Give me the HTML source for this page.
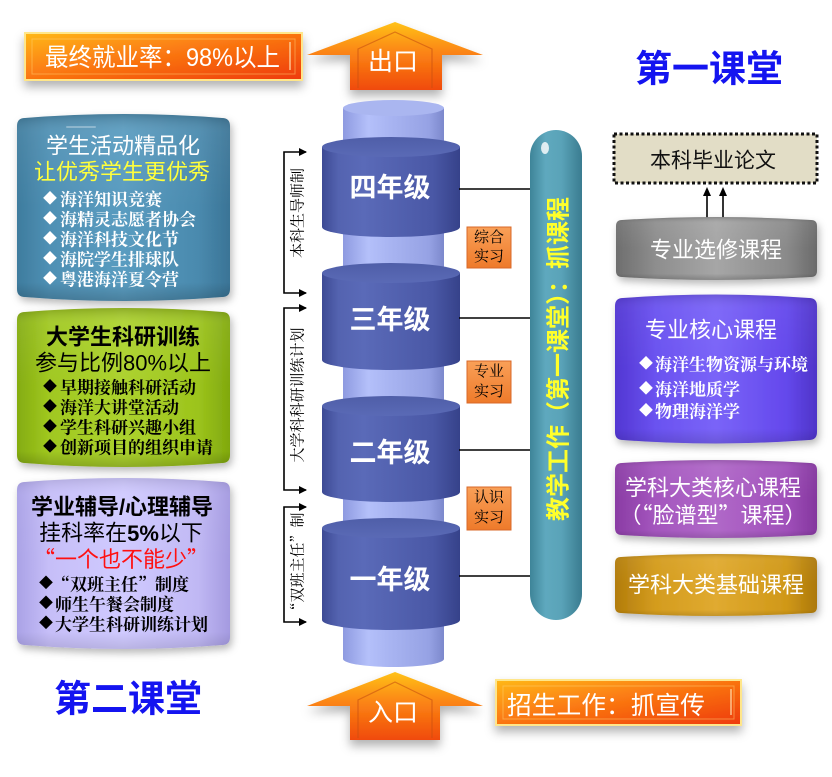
<!DOCTYPE html>
<html><head><meta charset="utf-8">
<style>
html,body{margin:0;padding:0;background:#fff;}
svg{display:block;}
.s{font-family:"Liberation Sans","Noto Sans CJK SC",sans-serif;}
.r{font-family:"Liberation Serif","Noto Serif CJK SC",serif;}
.sc{font-family:"Noto Sans CJK SC","Liberation Sans",sans-serif;}
.rc{font-family:"Noto Serif CJK SC","Liberation Serif",serif;}
</style></head>
<body>
<svg width="832" height="777" viewBox="0 0 832 777" xmlns="http://www.w3.org/2000/svg">
<defs>
  <filter id="sh" x="-20%" y="-20%" width="140%" height="150%">
    <feDropShadow dx="2" dy="4" stdDeviation="4" flood-color="#000" flood-opacity="0.28"/>
  </filter>
  <filter id="sh2" x="-20%" y="-30%" width="140%" height="170%">
    <feDropShadow dx="0" dy="6" stdDeviation="5" flood-color="#000" flood-opacity="0.3"/>
  </filter>
  <linearGradient id="orH" x1="0" y1="0" x2="1" y2="1">
    <stop offset="0" stop-color="#ffb818"/>
    <stop offset="0.45" stop-color="#fb7a12"/>
    <stop offset="1" stop-color="#ee3a08"/>
  </linearGradient>
  <linearGradient id="arr" x1="0" y1="0" x2="0" y2="1">
    <stop offset="0" stop-color="#ffc21a"/>
    <stop offset="0.45" stop-color="#fb8414"/>
    <stop offset="1" stop-color="#f04a0a"/>
  </linearGradient>
  <linearGradient id="bigC" x1="0" y1="0" x2="1" y2="0">
    <stop offset="0" stop-color="#3d4a94"/>
    <stop offset="0.12" stop-color="#5463b0"/>
    <stop offset="0.3" stop-color="#5a6ab8"/>
    <stop offset="0.8" stop-color="#4a58a6"/>
    <stop offset="1" stop-color="#36428a"/>
  </linearGradient>
  <linearGradient id="bigT" x1="0" y1="0" x2="0" y2="1">
    <stop offset="0" stop-color="#4f5ea8"/>
    <stop offset="1" stop-color="#5a6ab6"/>
  </linearGradient>
  <linearGradient id="litC" x1="0" y1="0" x2="1" y2="0">
    <stop offset="0" stop-color="#8e9ae0"/>
    <stop offset="0.25" stop-color="#b4c0fa"/>
    <stop offset="0.45" stop-color="#a9b5f2"/>
    <stop offset="0.85" stop-color="#96a2e4"/>
    <stop offset="1" stop-color="#7c88cc"/>
  </linearGradient>
  <linearGradient id="pill" x1="0" y1="0" x2="1" y2="0">
    <stop offset="0" stop-color="#3e8498"/>
    <stop offset="0.3" stop-color="#5fa9be"/>
    <stop offset="0.6" stop-color="#5aa3b8"/>
    <stop offset="1" stop-color="#3a7c90"/>
  </linearGradient>
  <linearGradient id="blue" x1="0" y1="0" x2="1" y2="0">
    <stop offset="0" stop-color="#3e7c9e"/>
    <stop offset="0.15" stop-color="#4f90b4"/>
    <stop offset="0.5" stop-color="#5a9cc0"/>
    <stop offset="0.85" stop-color="#4a8aae"/>
    <stop offset="1" stop-color="#3a7496"/>
  </linearGradient>
  <linearGradient id="green" x1="0" y1="0" x2="1" y2="0">
    <stop offset="0" stop-color="#84ac10"/>
    <stop offset="0.15" stop-color="#a0c820"/>
    <stop offset="0.5" stop-color="#acd22e"/>
    <stop offset="0.85" stop-color="#9cc41c"/>
    <stop offset="1" stop-color="#80a80e"/>
  </linearGradient>
  <linearGradient id="lav" x1="0" y1="0" x2="1" y2="0">
    <stop offset="0" stop-color="#aaa2e6"/>
    <stop offset="0.15" stop-color="#c6bef8"/>
    <stop offset="0.5" stop-color="#d0caff"/>
    <stop offset="0.85" stop-color="#c0b8f4"/>
    <stop offset="1" stop-color="#a49ae0"/>
  </linearGradient>
  <linearGradient id="gray" x1="0" y1="0" x2="1" y2="0">
    <stop offset="0" stop-color="#6e6e6e"/>
    <stop offset="0.2" stop-color="#8e8e8e"/>
    <stop offset="0.5" stop-color="#a6a6a6"/>
    <stop offset="0.85" stop-color="#8a8a8a"/>
    <stop offset="1" stop-color="#6a6a6a"/>
  </linearGradient>
  <linearGradient id="vio" x1="0" y1="0" x2="1" y2="0">
    <stop offset="0" stop-color="#5236d2"/>
    <stop offset="0.2" stop-color="#6a52f0"/>
    <stop offset="0.5" stop-color="#7a64f8"/>
    <stop offset="0.85" stop-color="#6448ec"/>
    <stop offset="1" stop-color="#4e34c8"/>
  </linearGradient>
  <linearGradient id="mag" x1="0" y1="0" x2="1" y2="0">
    <stop offset="0" stop-color="#8a3ca4"/>
    <stop offset="0.2" stop-color="#a456be"/>
    <stop offset="0.5" stop-color="#b068c8"/>
    <stop offset="0.85" stop-color="#a050ba"/>
    <stop offset="1" stop-color="#84369e"/>
  </linearGradient>
  <linearGradient id="gold" x1="0" y1="0" x2="1" y2="0">
    <stop offset="0" stop-color="#b27c0c"/>
    <stop offset="0.2" stop-color="#d49c1e"/>
    <stop offset="0.5" stop-color="#e0aa30"/>
    <stop offset="0.85" stop-color="#d09818"/>
    <stop offset="1" stop-color="#ac780a"/>
  </linearGradient>
  <linearGradient id="vshade" x1="0" y1="0" x2="0" y2="1">
    <stop offset="0" stop-color="#000" stop-opacity="0.18"/>
    <stop offset="0.1" stop-color="#fff" stop-opacity="0.06"/>
    <stop offset="0.5" stop-color="#fff" stop-opacity="0"/>
    <stop offset="0.9" stop-color="#000" stop-opacity="0"/>
    <stop offset="1" stop-color="#000" stop-opacity="0.18"/>
  </linearGradient>
  <linearGradient id="small" x1="0" y1="0" x2="0" y2="1">
    <stop offset="0" stop-color="#f9a058"/>
    <stop offset="1" stop-color="#ee7a2a"/>
  </linearGradient>
</defs>

<!-- Top-left orange banner -->
<g filter="url(#sh2)">
  <rect x="25" y="33" width="277" height="47" fill="url(#orH)" stroke="#ffe68a" stroke-width="2"/>
</g>
<rect x="32" y="39" width="263" height="35" fill="none" stroke="#ffd070" stroke-opacity="0.5" stroke-width="1"/>
<line x1="290" y1="42" x2="290" y2="70" stroke="#ffe0b0" stroke-width="1.5" stroke-opacity="0.8"/>
<text class="s" x="45" y="58" dominant-baseline="central" font-size="25" fill="#fff" textLength="235" lengthAdjust="spacingAndGlyphs">最终就业率：98%以上</text>

<!-- Top arrow 出口 -->
<g filter="url(#sh2)">
  <polygon points="395,22 483,55 442,55 442,90 350,90 350,55 307,55" fill="url(#arr)"/>
</g>
<polyline points="358,88 358,49 395,32 432,49 432,88" fill="none" stroke="#c85010" stroke-opacity="0.6" stroke-width="1.2"/>
<text class="s" x="393" y="62" dominant-baseline="central" text-anchor="middle" font-size="25" fill="#fff">出口</text>

<!-- 第一课堂 / 第二课堂 -->
<text class="s" x="709" y="69" dominant-baseline="central" text-anchor="middle" font-size="37" font-weight="bold" fill="#1414f0">第一课堂</text>
<text class="s" x="128" y="699" dominant-baseline="central" text-anchor="middle" font-size="37" font-weight="bold" fill="#1414f0">第二课堂</text>

<!-- Central light cylinder -->
<rect x="343" y="108" width="101" height="551" fill="url(#litC)"/>
<ellipse cx="393.5" cy="659" rx="50.5" ry="8" fill="url(#litC)"/>
<ellipse cx="393.5" cy="108" rx="50.5" ry="8" fill="#aab6f0"/>

<!-- Big cylinders -->
<g>
  <path d="M322,147 L322,227 A69,10 0 0 0 460,227 L460,147 Z" fill="url(#bigC)"/>
  <ellipse cx="391" cy="147" rx="69" ry="10" fill="url(#bigT)"/>
  <path d="M322,273 L322,360 A69,10 0 0 0 460,360 L460,273 Z" fill="url(#bigC)"/>
  <ellipse cx="391" cy="273" rx="69" ry="10" fill="url(#bigT)"/>
  <path d="M322,406 L322,492 A69,10 0 0 0 460,492 L460,406 Z" fill="url(#bigC)"/>
  <ellipse cx="391" cy="406" rx="69" ry="10" fill="url(#bigT)"/>
  <path d="M322,528 L322,620 A69,10 0 0 0 460,620 L460,528 Z" fill="url(#bigC)"/>
  <ellipse cx="391" cy="528" rx="69" ry="10" fill="url(#bigT)"/>
</g>
<text class="s" x="390" y="188" dominant-baseline="central" text-anchor="middle" font-size="27" font-weight="bold" fill="#fff">四年级</text>
<text class="s" x="390" y="320" dominant-baseline="central" text-anchor="middle" font-size="27" font-weight="bold" fill="#fff">三年级</text>
<text class="s" x="390" y="453" dominant-baseline="central" text-anchor="middle" font-size="27" font-weight="bold" fill="#fff">二年级</text>
<text class="s" x="390" y="580" dominant-baseline="central" text-anchor="middle" font-size="27" font-weight="bold" fill="#fff">一年级</text>

<!-- connectors to pill -->
<g stroke="#000" stroke-width="1.5">
  <line x1="459" y1="189" x2="531" y2="189"/>
  <line x1="459" y1="318" x2="531" y2="318"/>
  <line x1="459" y1="450" x2="531" y2="450"/>
  <line x1="459" y1="576" x2="531" y2="576"/>
</g>

<!-- small orange boxes -->
<rect x="467" y="227" width="44" height="41" fill="url(#small)" stroke="#d8682a" stroke-width="1"/>
<text class="r" x="489" y="238" dominant-baseline="central" text-anchor="middle" font-size="15" fill="#000">综合</text>
<text class="r" x="489" y="257" dominant-baseline="central" text-anchor="middle" font-size="15" fill="#000">实习</text>
<rect x="467" y="361" width="44" height="42" fill="url(#small)" stroke="#d8682a" stroke-width="1"/>
<text class="r" x="489" y="372" dominant-baseline="central" text-anchor="middle" font-size="15" fill="#000">专业</text>
<text class="r" x="489" y="392" dominant-baseline="central" text-anchor="middle" font-size="15" fill="#000">实习</text>
<rect x="467" y="487" width="44" height="43" fill="url(#small)" stroke="#d8682a" stroke-width="1"/>
<text class="r" x="489" y="498" dominant-baseline="central" text-anchor="middle" font-size="15" fill="#000">认识</text>
<text class="r" x="489" y="518" dominant-baseline="central" text-anchor="middle" font-size="15" fill="#000">实习</text>

<!-- Pill -->
<rect x="530" y="130" width="52" height="490" rx="26" ry="26" fill="url(#pill)"/>
<ellipse cx="545" cy="148" rx="4" ry="6" fill="#fff" fill-opacity="0.8"/>
<text class="sc" transform="rotate(-90 556 359)" x="556" y="359" dominant-baseline="central" text-anchor="middle" font-size="24" font-weight="bold" fill="#ffff2a">教学工作（第一课堂）：抓课程</text>

<!-- Brackets -->
<g stroke="#000" stroke-width="1.6" fill="none">
  <polyline points="306,152 284,152 284,293 306,293"/>
  <polyline points="306,308 284,308 284,490 306,490"/>
  <polyline points="306,507 284,507 284,622 306,622"/>
</g>
<g fill="#000">
  <path d="M299,148 L307,152 L299,156 Z"/>
  <path d="M299,289 L307,293 L299,297 Z"/>
  <path d="M299,304 L307,308 L299,312 Z"/>
  <path d="M299,486 L307,490 L299,494 Z"/>
  <path d="M299,503 L307,507 L299,511 Z"/>
  <path d="M299,618 L307,622 L299,626 Z"/>
</g>
<text class="rc" transform="rotate(-90 297 213)" x="297" y="213" dominant-baseline="central" text-anchor="middle" font-size="15" fill="#000">本科生导师制</text>
<text class="rc" transform="rotate(-90 297 395)" x="297" y="395" dominant-baseline="central" text-anchor="middle" font-size="15" fill="#000">大学科科研训练计划</text>
<text class="rc" transform="rotate(-90 297 565)" x="297" y="565" dominant-baseline="central" text-anchor="middle" font-size="15" fill="#000">“双班主任”制</text>

<!-- Left boxes -->
<g filter="url(#sh)">
  <path d="M17,126 Q17,118 25,118 Q123.5,110 222,118 Q230,118 230,126 L230,289 Q230,297 222,297 Q123.5,305 25,297 Q17,297 17,289 Z" fill="url(#blue)"/>
</g>
<path d="M17,126 Q17,118 25,118 Q123.5,110 222,118 Q230,118 230,126 L230,289 Q230,297 222,297 Q123.5,305 25,297 Q17,297 17,289 Z" fill="url(#vshade)"/>
<rect x="66" y="126" width="30" height="2" rx="1" fill="#fff" fill-opacity="0.3"/>
<text class="s" x="123" y="146" dominant-baseline="central" text-anchor="middle" font-size="22" fill="#fff">学生活动精品化</text>
<text class="s" x="122" y="172" dominant-baseline="central" text-anchor="middle" font-size="22" fill="#ffff3c">让优秀学生更优秀</text>
<g class="r" font-size="17" font-weight="bold" fill="#fff">
  <text x="43" y="200" dominant-baseline="central" font-size="14">◆</text><text x="60" y="200" dominant-baseline="central">海洋知识竞赛</text>
  <text x="43" y="220" dominant-baseline="central" font-size="14">◆</text><text x="60" y="220" dominant-baseline="central">海精灵志愿者协会</text>
  <text x="43" y="240" dominant-baseline="central" font-size="14">◆</text><text x="60" y="240" dominant-baseline="central">海洋科技文化节</text>
  <text x="43" y="260" dominant-baseline="central" font-size="14">◆</text><text x="60" y="260" dominant-baseline="central">海院学生排球队</text>
  <text x="43" y="280" dominant-baseline="central" font-size="14">◆</text><text x="60" y="280" dominant-baseline="central">粤港海洋夏令营</text>
</g>

<g filter="url(#sh)">
  <path d="M17,320 Q17,312 25,312 Q123.5,304 222,312 Q230,312 230,320 L230,455 Q230,463 222,463 Q123.5,471 25,463 Q17,463 17,455 Z" fill="url(#green)"/>
</g>
<path d="M17,320 Q17,312 25,312 Q123.5,304 222,312 Q230,312 230,320 L230,455 Q230,463 222,463 Q123.5,471 25,463 Q17,463 17,455 Z" fill="url(#vshade)"/>
<text class="s" x="123" y="337" dominant-baseline="central" text-anchor="middle" font-size="22" font-weight="bold" fill="#000">大学生科研训练</text>
<text class="s" x="123" y="363" dominant-baseline="central" text-anchor="middle" font-size="22" fill="#000">参与比例80%以上</text>
<g class="r" font-size="17" font-weight="bold" fill="#000">
  <text x="43" y="388" dominant-baseline="central" font-size="14">◆</text><text x="60" y="388" dominant-baseline="central">早期接触科研活动</text>
  <text x="43" y="408" dominant-baseline="central" font-size="14">◆</text><text x="60" y="408" dominant-baseline="central">海洋大讲堂活动</text>
  <text x="43" y="428" dominant-baseline="central" font-size="14">◆</text><text x="60" y="428" dominant-baseline="central">学生科研兴趣小组</text>
  <text x="43" y="448" dominant-baseline="central" font-size="14">◆</text><text x="60" y="448" dominant-baseline="central">创新项目的组织申请</text>
</g>

<g filter="url(#sh)">
  <path d="M17,490 Q17,482 25,482 Q123.5,474 222,482 Q230,482 230,490 L230,637 Q230,645 222,645 Q123.5,653 25,645 Q17,645 17,637 Z" fill="url(#lav)"/>
</g>
<path d="M17,490 Q17,482 25,482 Q123.5,474 222,482 Q230,482 230,490 L230,637 Q230,645 222,645 Q123.5,653 25,645 Q17,645 17,637 Z" fill="url(#vshade)" opacity="0.6"/>
<text class="s" x="122" y="507" dominant-baseline="central" text-anchor="middle" font-size="22" font-weight="bold" fill="#000">学业辅导/心理辅导</text>
<text class="s" x="121" y="533" dominant-baseline="central" text-anchor="middle" font-size="22" fill="#000">挂科率在<tspan font-weight="bold">5%</tspan>以下</text>
<text class="sc" x="121" y="558" dominant-baseline="central" text-anchor="middle" font-size="22" fill="#ff1010">“一个也不能少”</text>
<g class="rc" font-size="17" font-weight="bold" fill="#000">
  <text x="39" y="583" dominant-baseline="central" font-size="14">◆</text><text x="53" y="583" dominant-baseline="central">“双班主任”制度</text>
  <text x="39" y="603" dominant-baseline="central" font-size="14">◆</text><text x="55" y="603" dominant-baseline="central">师生午餐会制度</text>
  <text x="39" y="623" dominant-baseline="central" font-size="14">◆</text><text x="55" y="623" dominant-baseline="central">大学生科研训练计划</text>
</g>

<!-- Right side -->
<rect x="614" y="134" width="203" height="49" fill="#e2ddc6" stroke="#111" stroke-width="3" stroke-dasharray="3,2.5"/>
<text class="s" x="713" y="161" dominant-baseline="central" text-anchor="middle" font-size="21" fill="#111">本科毕业论文</text>
<g stroke="#000" stroke-width="1.6">
  <line x1="707" y1="218" x2="707" y2="193"/>
  <line x1="723" y1="218" x2="723" y2="193"/>
</g>
<path d="M703,196 L707,187 L711,196 Z" fill="#000"/>
<path d="M719,196 L723,187 L727,196 Z" fill="#000"/>

<g filter="url(#sh)">
  <path d="M616,226 Q616,220 622,220 Q716.5,214 811,220 Q817,220 817,226 L817,271 Q817,277 811,277 Q716.5,283 622,277 Q616,277 616,271 Z" fill="url(#gray)"/>
</g>
<path d="M616,226 Q616,220 622,220 Q716.5,214 811,220 Q817,220 817,226 L817,271 Q817,277 811,277 Q716.5,283 622,277 Q616,277 616,271 Z" fill="url(#vshade)"/>
<text class="s" x="716" y="250" dominant-baseline="central" text-anchor="middle" font-size="22" fill="#fff">专业选修课程</text>

<g filter="url(#sh)">
  <path d="M615,306 Q615,298 623,298 Q716,291 809,298 Q817,298 817,306 L817,432 Q817,440 809,440 Q716,447 623,440 Q615,440 615,432 Z" fill="url(#vio)"/>
</g>
<path d="M615,306 Q615,298 623,298 Q716,291 809,298 Q817,298 817,306 L817,432 Q817,440 809,440 Q716,447 623,440 Q615,440 615,432 Z" fill="url(#vshade)" opacity="0.7"/>
<text class="s" x="711" y="330" dominant-baseline="central" text-anchor="middle" font-size="22" fill="#fff">专业核心课程</text>
<g class="r" font-size="17" font-weight="bold" fill="#fff">
  <text x="639" y="365" dominant-baseline="central" font-size="14">◆</text><text x="655" y="365" dominant-baseline="central">海洋生物资源与环境</text>
  <text x="639" y="390" dominant-baseline="central" font-size="14">◆</text><text x="655" y="390" dominant-baseline="central">海洋地质学</text>
  <text x="639" y="412" dominant-baseline="central" font-size="14">◆</text><text x="655" y="412" dominant-baseline="central">物理海洋学</text>
</g>

<g filter="url(#sh)">
  <path d="M615,470 Q615,463 622,463 Q716,457 810,463 Q817,463 817,470 L817,528 Q817,535 810,535 Q716,541 622,535 Q615,535 615,528 Z" fill="url(#mag)"/>
</g>
<path d="M615,470 Q615,463 622,463 Q716,457 810,463 Q817,463 817,470 L817,528 Q817,535 810,535 Q716,541 622,535 Q615,535 615,528 Z" fill="url(#vshade)" opacity="0.7"/>
<text class="s" x="713" y="488" dominant-baseline="central" text-anchor="middle" font-size="22" fill="#fff">学科大类核心课程</text>
<text class="sc" x="713" y="514" dominant-baseline="central" text-anchor="middle" font-size="22" fill="#fff">（“脸谱型”课程）</text>

<g filter="url(#sh)">
  <path d="M615,563 Q615,557 621,557 Q716,551 811,557 Q817,557 817,563 L817,607 Q817,613 811,613 Q716,619 621,613 Q615,613 615,607 Z" fill="url(#gold)"/>
</g>
<path d="M615,563 Q615,557 621,557 Q716,551 811,557 Q817,557 817,563 L817,607 Q817,613 811,613 Q716,619 621,613 Q615,613 615,607 Z" fill="url(#vshade)" opacity="0.7"/>
<text class="s" x="716" y="585" dominant-baseline="central" text-anchor="middle" font-size="22" fill="#fff">学科大类基础课程</text>

<!-- Bottom arrow 入口 -->
<g filter="url(#sh2)">
  <polygon points="395,672 483,706 440,706 440,740 350,740 350,706 307,706" fill="url(#arr)"/>
</g>
<polyline points="358,738 358,700 395,682 432,700 432,738" fill="none" stroke="#c85010" stroke-opacity="0.6" stroke-width="1.2"/>
<text class="s" x="393" y="713" dominant-baseline="central" text-anchor="middle" font-size="25" fill="#fff">入口</text>

<!-- Bottom orange banner -->
<g filter="url(#sh2)">
  <rect x="496" y="680" width="245" height="45" fill="url(#orH)" stroke="#ffe68a" stroke-width="2"/>
</g>
<rect x="503" y="686" width="231" height="33" fill="none" stroke="#ffd070" stroke-opacity="0.5" stroke-width="1"/>
<line x1="731" y1="689" x2="731" y2="715" stroke="#ffe0b0" stroke-width="1.5" stroke-opacity="0.8"/>
<text class="sc" x="507" y="704" dominant-baseline="central" font-size="25" fill="#fff" textLength="198" lengthAdjust="spacingAndGlyphs">招生工作：抓宣传</text>
</svg>
</body></html>
